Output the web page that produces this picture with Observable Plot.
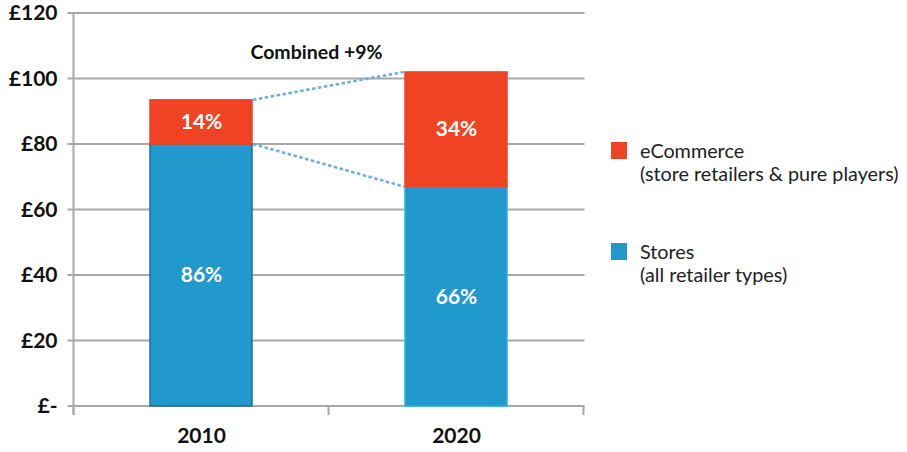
<!DOCTYPE html>
<html>
<head>
<meta charset="utf-8">
<script src="https://cdn.jsdelivr.net/npm/d3@7"></script>
<script src="https://cdn.jsdelivr.net/npm/@observablehq/plot@0.6"></script>
<style>
  body { margin: 0; background: #fff; font-family: Lato, "Open Sans", sans-serif; }
  #wrap { position: relative; width: 907px; height: 452px; }
  .legend { position: absolute; left: 611px; font-size: 19.8px; color: #222; line-height: 23px; }
  .legend .sw { position: absolute; left: 0; width: 16px; height: 17px; }
  .legend .tx { position: absolute; left: 29px; white-space: nowrap; }
</style>
</head>
<body>
<div id="wrap"></div>
<script>
const years = ["2010", "2020"];
const stores = [80, 67];
const ecommerce = [13.5, 35];
const storesPct = ["86%", "66%"];
const ecomPct = ["14%", "34%"];
const yTicks = [0, 20, 40, 60, 80, 100, 120];
const combinedLabel = "Combined +9%";
const seriesNames = ["eCommerce", "Stores"];
const seriesSub = ["(store retailers & pure players)", "(all retailer types)"];
const colors = { eCommerce: "#EF4324", Stores: "#2199CC" };

const rows = [];
years.forEach((yr, i) => {
  rows.push({year: yr, segment: "Stores", y1: 0, y2: stores[i], label: storesPct[i],
             stroke: i === 0 ? "#1E6F98" : "#27B2E6"});
  rows.push({year: yr, segment: "eCommerce", y1: stores[i], y2: stores[i] + ecommerce[i], label: ecomPct[i],
             stroke: "#EF4324"});
});

const gray = "#A9A9A9";

function extras(index, scales, values, dims) {
  const sx = scales.x, sy = scales.y;
  const bw = sx.bandwidth();
  const step = sx.step();
  const g = d3.create("svg:g");
  const y0 = sy(0);
  const bounds = [sx(years[0]) - (step - bw) / 2, sx(years[0]) + bw + (step - bw) / 2, sx(years[1]) + bw + (step - bw) / 2];
  yTicks.forEach(t => {
    g.append("line").attr("x1", bounds[0] - 6).attr("x2", bounds[2] + 1)
      .attr("y1", sy(t)).attr("y2", sy(t))
      .attr("stroke", gray).attr("stroke-width", 2);
  });
  bounds.forEach(b => {
    g.append("line").attr("x1", b).attr("x2", b).attr("y1", y0).attr("y2", y0 + 9)
      .attr("stroke", gray).attr("stroke-width", 2);
  });
  g.append("line").attr("x1", bounds[0]).attr("x2", bounds[0]).attr("y1", sy(120) - 1).attr("y2", y0 + 9)
    .attr("stroke", gray).attr("stroke-width", 2);
  return g.node();
}

function connectors(index, scales) {
  const sx = scales.x, sy = scales.y;
  const bw = sx.bandwidth();
  const g = d3.create("svg:g");
  const xr = sx(years[0]) + bw, xl = sx(years[1]);
  const tops = [stores[0] + ecommerce[0], stores[1] + ecommerce[1]];
  [[tops[0], tops[1]], [stores[0], stores[1]]].forEach(([a, b]) => {
    g.append("line").attr("x1", xr + 1).attr("x2", xl - 1)
      .attr("y1", sy(a)).attr("y2", sy(b))
      .attr("stroke", "#6DB0DC").attr("stroke-width", 2.6)
      .attr("stroke-dasharray", "3.5,2.5");
  });
  g.append("text").attr("x", (xr + xl) / 2 - 12).attr("y", sy(107.4))
    .attr("text-anchor", "middle").attr("dominant-baseline", "middle")
    .attr("font-family", "Lato, sans-serif").attr("font-weight", "bold").attr("font-size", 19.5)
    .attr("fill", "#111").text(combinedLabel);
  return g.node();
}

const plot = Plot.plot({
  width: 907,
  height: 452,
  marginLeft: 73,
  marginRight: 324,
  marginTop: 13,
  marginBottom: 46,
  style: { fontFamily: "Lato, sans-serif", background: "white", overflow: "visible" },
  x: { domain: years, paddingInner: 0.6, paddingOuter: 0.3, label: null },
  y: { domain: [0, 120], label: null },
  marks: [
    extras,
    Plot.axisY(yTicks, { tickSize: 0, tickPadding: 16, tickFormat: d => d === 0 ? "£-" : "£" + d,
      fontSize: 21, fontWeight: "bold", fill: "#111", label: null }),
    Plot.axisX({ tickSize: 0, tickPadding: 22, fontSize: 21, fontWeight: "bold", fill: "#111", label: null }),
    Plot.barY(rows, { x: "year", y1: "y1", y2: "y2", fill: d => colors[d.segment], stroke: "stroke", strokeWidth: 1.5 }),
    Plot.text(rows, { x: "year", y: d => (d.y1 + d.y2) / 2, text: "label", fill: "white",
      fontSize: 21, fontWeight: "bold" }),
    connectors
  ]
});

const wrap = document.getElementById("wrap");
wrap.appendChild(plot);

const legendTops = [142, 243];
seriesNames.forEach((name, i) => {
  const d = document.createElement("div");
  d.className = "legend";
  d.style.top = legendTops[i] + "px";
  d.innerHTML = `<div class="sw" style="background:${colors[name]};top:0px"></div>
    <div class="tx" style="top:-3px">${name}<br>${seriesSub[i]}</div>`;
  wrap.appendChild(d);
});
</script>
</body>
</html>
